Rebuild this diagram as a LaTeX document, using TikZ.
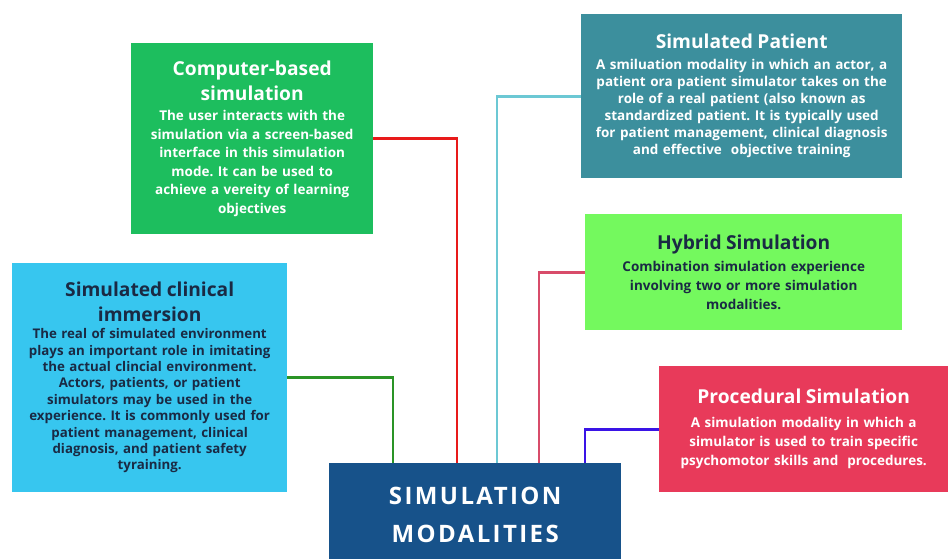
\documentclass[tikz,border=0pt]{standalone}
\usepackage{fontspec}
\setmainfont{Open Sans}
\newfontfamily\boxfont{Open Sans}[UprightFont=* Bold]
\newfontfamily\hubfont{Open Sans}[UprightFont=* Bold,LetterSpace=10]
\frenchspacing

\definecolor{compgreen}{RGB}{29,190,94}
\definecolor{patteal}{RGB}{60,143,157}
\definecolor{immblue}{RGB}{55,198,239}
\definecolor{hybgreen}{RGB}{116,249,94}
\definecolor{procred}{RGB}{232,58,90}
\definecolor{hubblue}{RGB}{23,82,138}
\definecolor{darkink}{RGB}{26,42,68}
\definecolor{lnred}{RGB}{232,26,26}
\definecolor{lncyan}{RGB}{108,200,212}
\definecolor{lnpink}{RGB}{216,76,106}
\definecolor{lngreen}{RGB}{42,148,38}
\definecolor{lnblue}{RGB}{58,20,230}

% box heading: its own size and leading, closed before the body starts
\newcommand{\boxtitle}[2]{{\fontsize{19.2}{24.5}\selectfont #1\\[#2]}}

\tikzset{
  infobox/.style={rectangle, anchor=north west, inner sep=0pt, align=center,
    font=\boxfont\fontsize{13.5}{18.5}\selectfont},
  link/.style={line width=2.6pt}
}

\begin{document}
\begin{tikzpicture}[x=1pt, y=-1pt]
\useasboundingbox (0,0) rectangle (948,558);

% central hub (runs off the lower edge of the page)
\node[rectangle, anchor=north west, fill=hubblue, minimum width=292pt, minimum height=103pt,
  inner sep=0pt, align=center, text=white, font=\hubfont\fontsize{24}{38}\selectfont]
  (hub) at (329,463) {SIMULATION\\MODALITIES};

% modality boxes
\node[infobox, fill=compgreen, text=white, minimum width=242pt, minimum height=191pt, text width=236pt]
  (comp) at (131,43)
  {\boxtitle{Computer-based\\simulation}{2pt}
   The user interacts with the\\
   simulation via a screen-based\\
   interface in this simulation\\
   mode. It can be used to\\
   achieve a vereity of learning\\
   objectives};

\node[infobox, fill=patteal, text=white, minimum width=321pt, minimum height=164pt, text width=315pt,
  font=\boxfont\fontsize{13.5}{17}\selectfont]
  (pat) at (581,14)
  {\boxtitle{Simulated Patient}{4pt}
   A smiluation modality in which an actor, a\\
   patient ora patient simulator takes on the\\
   role of a real patient (also known as\\
   standardized patient. It is typically used\\
   for patient management, clinical diagnosis\\
   and effective\ \ objective training};

\node[infobox, fill=immblue, text=darkink, minimum width=275pt, minimum height=229pt, text width=269pt,
  font=\boxfont\fontsize{13.3}{16.4}\selectfont]
  (imm) at (12,263)
  {\boxtitle{Simulated clinical\\immersion}{1pt}
   The real of simulated environment\\
   plays an important role in imitating\\
   the actual clincial environment.\\
   Actors, patients, or patient\\
   simulators may be used in the\\
   experience. It is commonly used for\\
   patient management, clinical\\
   diagnosis, and patient safety\\
   tyraining.};

\node[infobox, fill=hybgreen, text=darkink, minimum width=317pt, minimum height=116pt, text width=311pt,
  font=\boxfont\fontsize{13.5}{19}\selectfont]
  (hyb) at (585,214)
  {\boxtitle{Hybrid Simulation}{3pt}
   Combination simulation experience\\
   involving two or more simulation\\
   modalities.};

\node[infobox, fill=procred, text=white, minimum width=289pt, minimum height=126pt, text width=285pt,
  font=\boxfont\fontsize{13.5}{19}\selectfont]
  (proc) at (659,366)
  {\boxtitle{Procedural Simulation}{5pt}
   A simulation modality in which a\\
   simulator is used to train specific\\
   psychomotor skills and\ \ procedures.};

% where each connector meets the hub
\coordinate (jimm)  at (393,463);
\coordinate (jcomp) at (457,463);
\coordinate (jpat)  at (497,463);
\coordinate (jhyb)  at (539,463);
\coordinate (jproc) at (585,463);

% connectors
\draw[link, lngreen] (imm.east)  -| (jimm);
\draw[link, lnred]   (comp.east) -| (jcomp);
\draw[link, lncyan]  (pat.west)  -| (jpat);
\draw[link, lnpink]  (hyb.west)  -| (jhyb);
\draw[link, lnblue]  (proc.west) -| (jproc);
\end{tikzpicture}
\end{document}
